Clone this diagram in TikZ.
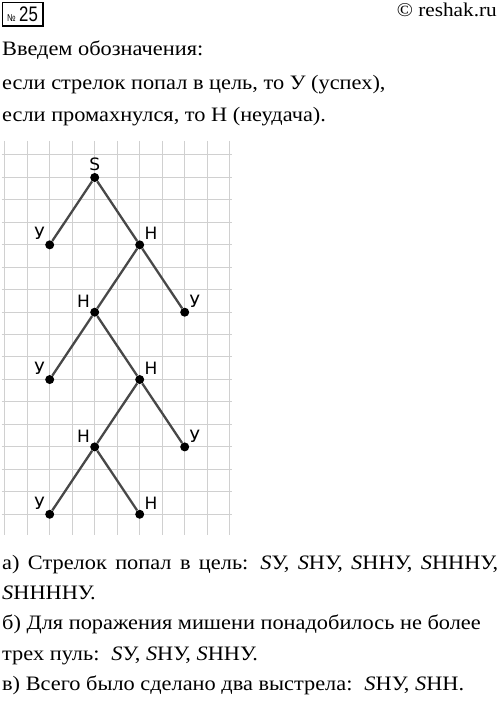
\documentclass[tikz,border=0pt]{standalone}
\usepackage{fontspec}
\setmainfont{Liberation Serif}[FakeStretch=1.09]
\newfontfamily\treefont{DejaVu Sans}
\newfontfamily\narrowfont[FakeStretch=0.8]{Liberation Sans}
\usetikzlibrary{positioning}
\definecolor{cellgray}{RGB}{208,208,208}
\definecolor{edgegray}{RGB}{72,72,72}
\newcommand{\gap}{\hspace{12pt}}
\tikzset{
  %tree point style
  shot/.style={
    circle
    , fill=black
    , inner sep=0pt
    , minimum size=9pt
    %, draw=edgegray
  },
  %text line style
  txt/.style={
    anchor=base west
    , inner sep=0pt
    , font=\fontsize{20.5}{24}\selectfont
  },
}

\begin{document}
\begin{tikzpicture}[x=1pt,y=1pt]
  \useasboundingbox (0,0) rectangle (500,-708);
  \tikzstyle{paperline}=[draw=cellgray, line width=1pt]
  \tikzstyle{branch}=[draw=edgegray, line width=2.3pt]
  \tikzstyle{lbl}=[font=\treefont\fontsize{17}{17}\selectfont, inner sep=1pt, label distance=0.5pt]

  % header
  \coordinate (numnw) at (2.5,-2.5);
  \coordinate (numse) at (43,-26);
  \draw[line width=1.3pt] (numnw) rectangle (numse);
  \node[inner sep=0pt, anchor=base] (num) at (22.5,-21.5)
        {\narrowfont\fontsize{10}{10}\selectfont №\kern3.5pt\fontsize{21}{21}\selectfont 25};
  \node[txt, anchor=base east, font=\fontsize{19.5}{24}\selectfont] (site) at (497,-17) {© reshak.ru};

  \node[txt] (intro) at (2,-56) {Введем обозначения:};
  \node[txt] (hit) at (2,-90) {если стрелок попал в цель, то У (успех),};
  \node[txt] (miss) at (2,-122) {если промахнулся, то Н (неудача).};

  % squared paper
  \foreach \i in {0,...,10}
    \draw[paperline] (4.7+22.5*\i,-141) -- (4.7+22.5*\i,-535);
  \foreach \j in {0,...,16}
    \draw[paperline] (1.5,-155-22.44*\j) -- (232,-155-22.44*\j);

  % tree of shots
  \begin{scope}[node distance=67.35pt and 45pt, on grid]
  \node[shot, label={[lbl]above:S}] (s) at (94.7,-177.5) {};
  \node[shot, below left=of s, label={[lbl]135:У}] (u1) {};
  \node[shot, below right=of s, label={[lbl]45:Н}] (h1) {};
  \node[shot, below left=of h1, label={[lbl]135:Н}] (h2) {};
  \node[shot, below right=of h1, label={[lbl]45:У}] (u2) {};
  \node[shot, below left=of h2, label={[lbl]135:У}] (u3) {};
  \node[shot, below right=of h2, label={[lbl]45:Н}] (h3) {};
  \node[shot, below left=of h3, label={[lbl]135:Н}] (h4) {};
  \node[shot, below right=of h3, label={[lbl]45:У}] (u4) {};
  \node[shot, below left=of h4, label={[lbl]135:У}] (u5) {};
  \node[shot, below right=of h4, label={[lbl]45:Н}] (h5) {};
  \end{scope}

  \draw[branch] (s) -- (u1);
  \draw[branch] (s) -- (h1);
  \draw[branch] (h1) -- (h2);
  \draw[branch] (h1) -- (u2);
  \draw[branch] (h2) -- (u3);
  \draw[branch] (h2) -- (h3);
  \draw[branch] (h3) -- (h4);
  \draw[branch] (h3) -- (u4);
  \draw[branch] (h4) -- (u5);
  \draw[branch] (h4) -- (h5);

  % answers
  \node[txt] (ansa) at (2,-569) {\makebox[496pt][s]{а) Стрелок попал в цель:\gap\textit{S}У, \textit{S}НУ, \textit{S}ННУ, \textit{S}НННУ,}};
  \node[txt] (ansa2) at (2,-599) {\textit{S}ННННУ.};
  \node[txt] (ansb) at (2,-629) {б) Для поражения мишени понадобилось не более};
  \node[txt] (ansb2) at (2,-660) {трех пуль:\gap\textit{S}У, \textit{S}НУ, \textit{S}ННУ.};
  \node[txt] (ansc) at (2,-690) {в) Всего было сделано два выстрела:\gap\textit{S}НУ, \textit{S}НН.};
\end{tikzpicture}
\end{document}
